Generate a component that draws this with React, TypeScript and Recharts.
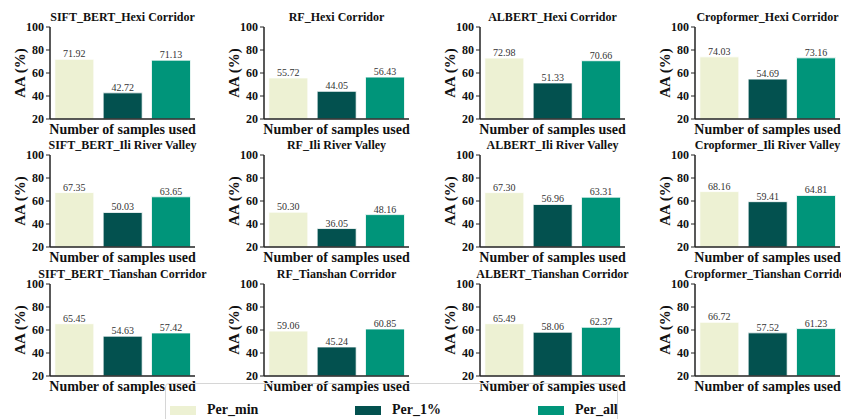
import React from "react";
import { BarChart, Bar, XAxis, YAxis, Cell, LabelList } from "recharts";

const groups = ["Per_min", "Per_1%", "Per_all"];
const groupColors = ["#edf1d3", "#03514f", "#00957a"];
const models = ["SIFT_BERT", "RF", "ALBERT", "Cropformer"];
const regions = ["Hexi Corridor", "Ili River Valley", "Tianshan Corridor"];

// values per model: [Per_min, Per_1%, Per_all]
const hexiCorridor = [
  [71.92, 42.72, 71.13],
  [55.72, 44.05, 56.43],
  [72.98, 51.33, 70.66],
  [74.03, 54.69, 73.16],
];
const iliRiverValley = [
  [67.35, 50.03, 63.65],
  [50.3, 36.05, 48.16],
  [67.3, 56.96, 63.31],
  [68.16, 59.41, 64.81],
];
const tianshanCorridor = [
  [65.45, 54.63, 57.42],
  [59.06, 45.24, 60.85],
  [65.49, 58.06, 62.37],
  [66.72, 57.52, 61.23],
];
const regionValues = [hexiCorridor, iliRiverValley, tianshanCorridor];
const yTicks = [20, 40, 60, 80, 100];

const FONT = "Liberation Serif";
const colX = [50, 264, 480, 695];
const rowY = [27, 155, 284];
const PLOT_W = 145;
const PLOT_H = 92;

function Panel({ title, values, x, y }: { title: string; values: number[]; x: number; y: number }) {
  const data = groups.map((g, i) => ({ name: g, value: values[i] }));
  return (
    <>
      <div
        style={{
          position: "absolute",
          left: x + PLOT_W / 2 - 150,
          top: y - 17,
          width: 300,
          textAlign: "center",
          whiteSpace: "nowrap",
          fontFamily: FONT,
          fontWeight: "bold",
          fontSize: 12,
          lineHeight: "14px",
          color: "#111",
        }}
      >
        {title}
      </div>
      <div style={{ position: "absolute", left: x - 50, top: y - 10 }}>
        <BarChart
          width={50 + PLOT_W + 5}
          height={10 + PLOT_H + 22}
          data={data}
          margin={{ top: 10, right: 5, bottom: 0, left: 0 }}
          barCategoryGap="10%"
          style={{ fontFamily: FONT }}
        >
          <XAxis
            dataKey="name"
            tick={false}
            tickLine={false}
            axisLine={{ stroke: "#222", strokeWidth: 1.5 }}
            height={22}
            label={{
              value: "Number of samples used",
              position: "insideBottom",
              offset: 7,
              style: { fontFamily: FONT, fontWeight: "bold", fontSize: 14, fill: "#111" },
            }}
          />
          <YAxis
            domain={[20, 100]}
            ticks={yTicks}
            width={50}
            tickSize={4}
            tickMargin={2}
            axisLine={{ stroke: "#222", strokeWidth: 1.5 }}
            tickLine={{ stroke: "#222" }}
            tick={{ fontFamily: FONT, fontWeight: "bold", fontSize: 12, fill: "#111" }}
            label={{
              value: "AA (%)",
              angle: -90,
              position: "insideLeft",
              offset: 20,
              style: { textAnchor: "middle", fontFamily: FONT, fontWeight: "bold", fontSize: 15, fill: "#111" },
            }}
          />
          <Bar dataKey="value" isAnimationActive={false} stroke="#ffffff" strokeWidth={0.8}>
            {data.map((d, i) => (
              <Cell key={d.name} fill={groupColors[i]} />
            ))}
            <LabelList
              dataKey="value"
              position="top"
              offset={2}
              formatter={(v: any) => Number(v).toFixed(2)}
              style={{ fontFamily: FONT, fontSize: 10, fill: "#333" }}
            />
          </Bar>
        </BarChart>
      </div>
    </>
  );
}

export default function App() {
  return (
    <div
      style={{
        position: "absolute",
        left: 0,
        top: 0,
        width: 841,
        height: 419,
        overflow: "hidden",
        background: "#fff",
        fontFamily: FONT,
      }}
    >
      {regions.map((region, r) =>
        models.map((model, c) => (
          <Panel
            key={model + region}
            title={`${model}_${region}`}
            values={regionValues[r][c]}
            x={colX[c]}
            y={rowY[r]}
          />
        ))
      )}
      <div
        style={{
          position: "absolute",
          left: 165,
          top: 383,
          width: 453,
          height: 50,
          border: "1px solid #d6d6d6",
          borderRadius: 4,
          boxSizing: "border-box",
        }}
      />
      {groups.map((g, i) => {
        const sx = [170, 355, 538][i];
        return (
          <React.Fragment key={g}>
            <div
              style={{
                position: "absolute",
                left: sx,
                top: 406,
                width: 26,
                height: 9,
                background: groupColors[i],
              }}
            />
            <div
              style={{
                position: "absolute",
                left: sx + 37,
                top: 402,
                fontFamily: FONT,
                fontWeight: "bold",
                fontSize: 14,
                lineHeight: "16px",
                color: "#111",
                whiteSpace: "nowrap",
              }}
            >
              {g}
            </div>
          </React.Fragment>
        );
      })}
    </div>
  );
}
